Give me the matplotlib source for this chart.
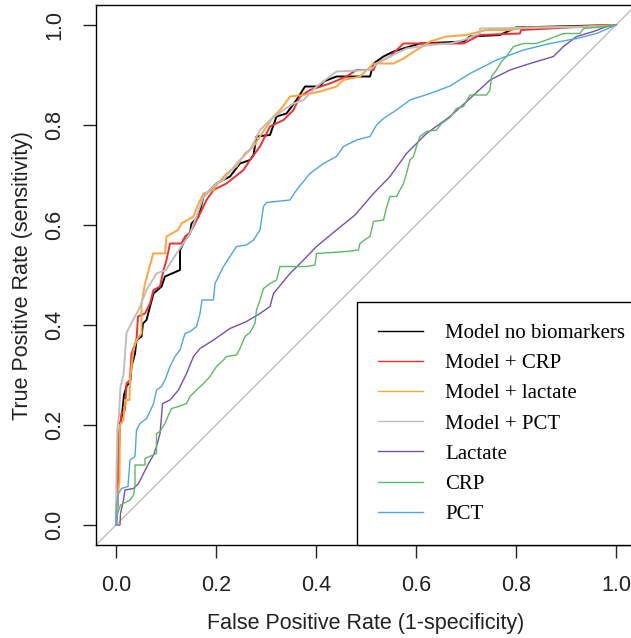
import matplotlib.pyplot as plt
from matplotlib.lines import Line2D

# ROC curves: false positive rate (1-specificity) vs true positive rate
fpr_base = [0, 0.003, 0.005, 0.008, 0.012, 0.016, 0.022, 0.028, 0.031, 0.038, 0.041, 0.051, 0.054,
            0.061, 0.068, 0.075, 0.091, 0.098, 0.128, 0.128, 0.138, 0.148, 0.151, 0.165, 0.175, 0.201,
            0.228, 0.248, 0.268, 0.275, 0.281, 0.308, 0.321, 0.341, 0.361, 0.378, 0.408, 0.415, 0.441,
            0.508, 0.515, 0.535, 0.555, 0.588, 0.608, 0.695, 0.708, 0.768, 0.8, 1]
tpr_base = [0, 0.04, 0.13, 0.2, 0.22, 0.26, 0.28, 0.283, 0.317, 0.343, 0.37, 0.377, 0.403,
            0.41, 0.437, 0.463, 0.477, 0.497, 0.51, 0.55, 0.57, 0.583, 0.603, 0.617, 0.657, 0.683,
            0.697, 0.723, 0.73, 0.74, 0.777, 0.78, 0.817, 0.823, 0.85, 0.877, 0.877, 0.887, 0.897,
            0.897, 0.923, 0.937, 0.947, 0.957, 0.963, 0.967, 0.977, 0.98, 0.995, 1]

fpr_crp_model = [0, 0.003, 0.006, 0.011, 0.018, 0.021, 0.028, 0.031, 0.041, 0.044, 0.058, 0.068, 0.075,
                 0.088, 0.095, 0.101, 0.108, 0.131, 0.138, 0.148, 0.155, 0.168, 0.181, 0.195, 0.221,
                 0.255, 0.268, 0.288, 0.308, 0.335, 0.355, 0.368, 0.388, 0.428, 0.461, 0.481, 0.515,
                 0.521, 0.548, 0.575, 0.695, 0.728, 0.808, 0.81, 1]
tpr_crp_model = [0, 0.06, 0.18, 0.223, 0.23, 0.283, 0.29, 0.343, 0.37, 0.417, 0.423, 0.443, 0.47,
                 0.477, 0.51, 0.53, 0.563, 0.563, 0.577, 0.585, 0.597, 0.623, 0.65, 0.67, 0.683,
                 0.71, 0.73, 0.757, 0.797, 0.81, 0.83, 0.857, 0.87, 0.883, 0.897, 0.91, 0.91,
                 0.923, 0.937, 0.963, 0.963, 0.98, 0.983, 0.99, 1]

fpr_lac_model = [0, 0.004, 0.007, 0.008, 0.015, 0.018, 0.027, 0.028, 0.035, 0.041, 0.051, 0.051, 0.058,
                 0.071, 0.074, 0.098, 0.101, 0.124, 0.131, 0.155, 0.165, 0.175, 0.195, 0.201, 0.221,
                 0.241, 0.258, 0.275, 0.288, 0.301, 0.315, 0.328, 0.338, 0.348, 0.375, 0.408, 0.441,
                 0.455, 0.488, 0.515, 0.555, 0.575, 0.601, 0.628, 0.661, 0.701, 0.74, 0.788, 0.82,
                 0.935, 1]
tpr_lac_model = [0, 0.06, 0.09, 0.2, 0.21, 0.25, 0.25, 0.29, 0.35, 0.37, 0.383, 0.443, 0.483,
                 0.53, 0.543, 0.543, 0.577, 0.59, 0.603, 0.617, 0.643, 0.663, 0.67, 0.68, 0.703,
                 0.717, 0.743, 0.757, 0.777, 0.797, 0.817, 0.83, 0.843, 0.857, 0.86, 0.867, 0.877,
                 0.89, 0.897, 0.923, 0.923, 0.933, 0.95, 0.967, 0.977, 0.98, 0.99, 0.99, 0.995,
                 0.997, 1]

fpr_pct_model = [0, 0.001, 0.003, 0.006, 0.009, 0.015, 0.021, 0.034, 0.045, 0.061, 0.081, 0.1, 0.121,
                 0.148, 0.161, 0.175, 0.201, 0.215, 0.241, 0.268, 0.288, 0.308, 0.335, 0.355, 0.375,
                 0.401, 0.441, 0.508, 0.525, 0.548, 0.581, 0.628, 0.668, 0.695, 0.728, 0.728, 0.99, 1]
tpr_pct_model = [0, 0.1, 0.196, 0.22, 0.277, 0.3, 0.384, 0.41, 0.43, 0.47, 0.503, 0.51, 0.543,
                 0.583, 0.617, 0.657, 0.683, 0.69, 0.723, 0.75, 0.79, 0.81, 0.83, 0.843, 0.85,
                 0.877, 0.907, 0.91, 0.925, 0.937, 0.953, 0.96, 0.963, 0.97, 0.983, 0.993, 0.997, 1]

fpr_lactate = [0, 0.008, 0.009, 0.015, 0.018, 0.035, 0.045, 0.055, 0.065, 0.075, 0.081, 0.088, 0.091,
               0.093, 0.108, 0.125, 0.141, 0.155, 0.168, 0.195, 0.228, 0.261, 0.288, 0.308, 0.315,
               0.348, 0.375, 0.401, 0.441, 0.478, 0.515, 0.548, 0.581, 0.621, 0.668, 0.708, 0.748,
               0.788, 0.828, 0.875, 0.895, 0.921, 0.955, 0.981, 1]
tpr_lactate = [0, 0.0, 0.023, 0.05, 0.07, 0.073, 0.083, 0.103, 0.123, 0.14, 0.157, 0.183, 0.217,
               0.243, 0.25, 0.27, 0.303, 0.337, 0.353, 0.37, 0.393, 0.407, 0.423, 0.437, 0.463,
               0.503, 0.53, 0.557, 0.59, 0.62, 0.663, 0.697, 0.743, 0.783, 0.817, 0.853, 0.89,
               0.91, 0.923, 0.937, 0.957, 0.977, 0.987, 0.997, 1]

fpr_crp = [0, 0.001, 0.009, 0.028, 0.035, 0.038, 0.038, 0.058, 0.058, 0.081, 0.081, 0.088, 0.098,
           0.105, 0.111, 0.125, 0.141, 0.148, 0.161, 0.175, 0.188, 0.201, 0.215, 0.221, 0.241,
           0.248, 0.258, 0.268, 0.278, 0.281, 0.288, 0.295, 0.308, 0.321, 0.328, 0.381, 0.398,
           0.401, 0.461, 0.485, 0.488, 0.501, 0.508, 0.515, 0.535, 0.541, 0.548, 0.561, 0.575,
           0.581, 0.588, 0.595, 0.601, 0.608, 0.621, 0.641, 0.651, 0.668, 0.681, 0.695, 0.708,
           0.741, 0.748, 0.751, 0.761, 0.771, 0.781, 0.795, 0.815, 0.841, 0.861, 0.895, 0.928,
           0.935, 0.981, 1]
tpr_crp = [0, 0.017, 0.04, 0.05, 0.06, 0.077, 0.12, 0.12, 0.133, 0.143, 0.183, 0.187, 0.203,
           0.22, 0.233, 0.237, 0.243, 0.257, 0.27, 0.283, 0.297, 0.317, 0.33, 0.337, 0.34,
           0.353, 0.377, 0.385, 0.403, 0.43, 0.45, 0.473, 0.483, 0.49, 0.517, 0.517, 0.52,
           0.543, 0.547, 0.55, 0.563, 0.573, 0.577, 0.607, 0.61, 0.635, 0.657, 0.657, 0.683,
           0.703, 0.73, 0.737, 0.757, 0.777, 0.787, 0.79, 0.803, 0.815, 0.833, 0.837, 0.86,
           0.86, 0.87, 0.897, 0.91, 0.927, 0.937, 0.957, 0.963, 0.963, 0.97, 0.983, 0.983,
           0.993, 0.997, 1]

fpr_pct = [0, 0.001, 0.005, 0.011, 0.024, 0.028, 0.038, 0.041, 0.048, 0.061, 0.068, 0.075, 0.081,
           0.091, 0.098, 0.108, 0.118, 0.128, 0.138, 0.148, 0.161, 0.168, 0.172, 0.195, 0.198,
           0.215, 0.228, 0.241, 0.261, 0.275, 0.288, 0.295, 0.301, 0.348, 0.361, 0.388, 0.415,
           0.441, 0.455, 0.481, 0.508, 0.521, 0.535, 0.561, 0.588, 0.628, 0.668, 0.708, 0.761,
           0.815, 0.868, 0.921, 0.961, 1]
tpr_pct = [0, 0.04, 0.063, 0.073, 0.077, 0.13, 0.137, 0.19, 0.203, 0.213, 0.227, 0.243, 0.27,
           0.277, 0.29, 0.317, 0.337, 0.35, 0.383, 0.387, 0.397, 0.423, 0.45, 0.45, 0.483,
           0.517, 0.537, 0.557, 0.56, 0.57, 0.59, 0.637, 0.645, 0.65, 0.67, 0.703, 0.723,
           0.737, 0.757, 0.77, 0.777, 0.8, 0.813, 0.83, 0.85, 0.863, 0.878, 0.903, 0.93,
           0.95, 0.963, 0.973, 0.983, 1]

labels = ["Model no biomarkers", "Model + CRP", "Model + lactate", "Model + PCT",
          "Lactate", "CRP", "PCT"]
colors = ["#000000", "#F03030", "#FFA53A", "#BEBEBE", "#7550B0", "#5CBB62", "#4FA6E2"]
curves = [(fpr_base, tpr_base), (fpr_crp_model, tpr_crp_model), (fpr_lac_model, tpr_lac_model),
          (fpr_pct_model, tpr_pct_model), (fpr_lactate, tpr_lactate), (fpr_crp, tpr_crp),
          (fpr_pct, tpr_pct)]
widths = [1.4, 1.4, 1.4, 1.4, 1.0, 1.0, 1.0]

plt.rcParams['font.family'] = ['Liberation Sans', 'DejaVu Sans']

fig = plt.figure(figsize=(6.31, 6.38), dpi=100)
ax = fig.add_axes([96 / 631, 93 / 638, 540 / 631, 540 / 638])

# chance line
ax.axline((0, 0), slope=1, color="#BEBEBE", lw=1.0, zorder=1)

for (fx, ty), c, w in zip(curves, colors, widths):
    ax.plot(fx, ty, color=c, lw=w, zorder=2)

ax.set_xlim(-0.04, 1.04)
ax.set_ylim(-0.04, 1.04)
ticks = [0.0, 0.2, 0.4, 0.6, 0.8, 1.0]
ax.set_xticks(ticks)
ax.set_yticks(ticks)
ax.set_xticklabels([f"{t:.1f}" for t in ticks])
ax.set_yticklabels([f"{t:.1f}" for t in ticks], rotation=90, va="center")
ax.tick_params(length=9.4, width=1, labelsize=15.5, pad=12.5, colors="#222222")
for s in ax.spines.values():
    s.set_linewidth(1.0)

ax.set_xlabel("False Positive Rate (1-specificity)", fontsize=15.5, labelpad=12, color="#222222")
ax.set_ylabel("True Positive Rate (sensitivity)", fontsize=15.5, labelpad=8, color="#222222")

handles = [Line2D([0], [0], color=c, lw=1.0) for c in colors]
leg = ax.legend(handles, labels, loc="lower left", bbox_to_anchor=(261 / 540, 0),
                borderaxespad=0, prop={"family": "Liberation Serif", "size": 15},
                handlelength=2.16, handletextpad=1.06, borderpad=1.0, labelspacing=0.51,
                fancybox=False, framealpha=1, edgecolor="black")
leg.get_frame().set_linewidth(1.0)

fig.savefig("out.png", dpi=100)
